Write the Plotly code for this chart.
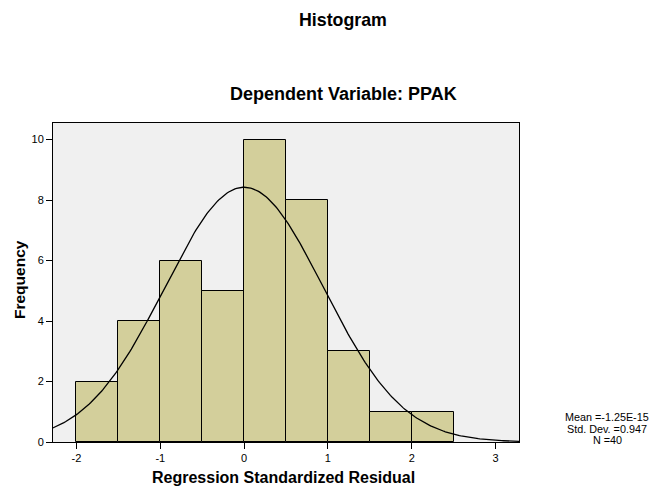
import numpy as np
import plotly.graph_objects as go

bin_starts = [-2.0, -1.5, -1.0, -0.5, 0.0, 0.5, 1.0, 1.5, 2.0]
counts = [2, 4, 6, 5, 10, 8, 3, 1, 1]
bin_width = 0.5
mean_val = -1.25e-15
std_dev = 0.947
n_obs = 40
x_ticks = [-2, -1, 0, 1, 2, 3]
y_ticks = [0, 2, 4, 6, 8, 10]
stats_lines = ["Mean =-1.25E-15", "Std. Dev. =0.947", "N =40"]

FONT = "Liberation Sans, Arial, sans-serif"
W, H = 655, 487
ML, MR, MT = 53, 136, 123
MB = H - 442
PW, PH = W - ML - MR, H - MT - MB

centers = [s + bin_width / 2 for s in bin_starts]
xc = np.linspace(-2.3, 3.3, 300)
yc = n_obs * bin_width / (std_dev * np.sqrt(2 * np.pi)) * np.exp(-0.5 * ((xc - mean_val) / std_dev) ** 2)

fig = go.Figure()
fig.add_trace(go.Bar(x=centers, y=counts, width=bin_width,
                     marker=dict(color="#D3CF9B", line=dict(color="black", width=1)),
                     showlegend=False, hoverinfo="skip"))
fig.add_trace(go.Scatter(x=xc, y=yc, mode="lines", line=dict(color="black", width=1.3),
                         showlegend=False, hoverinfo="skip"))


def px_ann(text, x, y, size, bold=False, angle=0):
    return dict(text=f"<b>{text}</b>" if bold else text,
                x=(x - ML) / PW, y=(H - MB - y) / PH, xref="paper", yref="paper",
                xanchor="center", yanchor="middle", showarrow=False, textangle=angle,
                font=dict(size=size, family=FONT, color="black"))


anns = [
    px_ann("Histogram", 343, 20, 17.8, bold=True),
    px_ann("Dependent Variable: PPAK", 343, 94, 18, bold=True),
    px_ann("Regression Standardized Residual", 283, 477, 16, bold=True),
    px_ann("Frequency", 19, 280, 15.5, bold=True, angle=-90),
]
for line, yy in zip(stats_lines, [417, 428.5, 440]):
    anns.append(px_ann(line, 607, yy, 10.8))

fig.update_layout(
    width=W, height=H,
    margin=dict(l=ML, r=MR, t=MT, b=MB),
    paper_bgcolor="white", plot_bgcolor="#F0F0F0",
    font=dict(family=FONT, size=11, color="black"),
    bargap=0,
    xaxis=dict(range=[-2.28, 3.28], tickvals=x_ticks, ticktext=[str(v) for v in x_ticks],
               ticks="outside", ticklen=6, tickcolor="black", showgrid=False, zeroline=False,
               showline=True, linecolor="black", linewidth=1, mirror=True, automargin=False),
    yaxis=dict(range=[0, 10.55], tickvals=y_ticks, ticks="outside", ticklen=6, tickcolor="black",
               showgrid=False, zeroline=False, showline=True, linecolor="black", linewidth=1,
               mirror=True, automargin=False),
    annotations=anns,
)
fig.write_html("out.html", config={"displayModeBar": False},
               post_script="document.body.style.margin='0';document.body.style.overflow='hidden';")
